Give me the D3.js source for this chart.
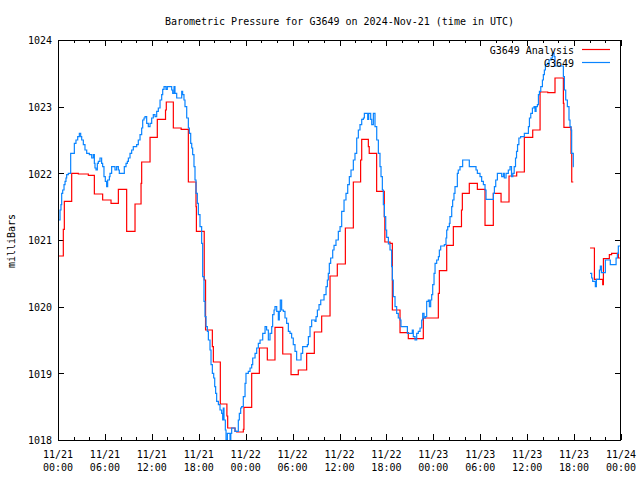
<!DOCTYPE html>
<html><head><meta charset="utf-8">
<script src="https://cdn.jsdelivr.net/npm/d3@7"></script>
<style>body{margin:0;background:#fff}svg{display:block}</style>
</head><body><svg id="c" width="640" height="480"></svg>
<script>
// hours since 2024-11-21 00:00 UTC ; null = data gap
const analysisHours = [0,0.68,0.81,1.75,2.6,3.88,4.65,5.71,6.78,7.72,8.78,9.85,10.62,10.7,11.77,12.7,13.75,13.85,14.75,15.75,16.67,17.65,17.7,18.7,18.87,19.74,19.87,20.76,21.6,21.7,22.64,22.85,23.7,23.78,24.77,25.75,26.77,27.75,28.74,29.8,30.73,31.8,32.78,33.72,34.79,35.72,36.75,37.77,38.7,38.84,39.69,39.8,40.75,41.73,41.8,42.46,42.76,43.74,44.8,46.72,48.64,48.77,49.71,50.56,51.6,51.71,52.6,53.63,54.61,55.67,56.66,57.68,58.66,59.64,60.71,61.65,62.63,63.56,64.63,64.7,65.61,65.7,65.9,66.5,68.04,68.6,69.66,69.75,70.51,70.8,71.66,72];
const analysisValues = [1020.76,1021.16,1021.58,1022.00,1021.99,1021.97,1021.69,1021.60,1021.55,1021.76,1021.13,1021.54,1021.85,1022.17,1022.54,1022.81,1022.95,1023.07,1022.68,1022.66,1021.87,1021.50,1021.13,1020.40,1019.65,1019.40,1019.17,1018.54,1018.36,1018.18,1018.13,1018.12,1018.16,1018.49,1019.00,1019.38,1019.20,1019.69,1019.29,1018.98,1019.05,1019.30,1019.62,1019.86,1020.46,1020.64,1021.18,1021.87,1022.20,1022.51,1022.40,1022.30,1021.73,1021.35,1020.97,1020.95,1019.95,1019.61,1019.52,1019.83,1020.20,1020.54,1020.92,1021.20,1021.45,1021.70,1021.85,1021.76,1021.22,1021.70,1021.57,1021.96,1022.02,1022.54,1022.65,1023.22,1023.21,1023.43,1023.05,1022.69,1022.30,1021.87,1021.87,null,1020.88,1020.41,1020.33,1020.72,1020.78,1020.80,1020.73,1020.73];

const stationHours = [0.1,0.26,0.38,0.47,0.6,0.77,0.9,1.02,1.11,1.32,1.62,2.09,2.3,2.52,2.73,2.9,3.03,3.24,3.45,3.67,4.01,4.31,4.52,4.65,4.73,4.86,5.03,5.16,5.37,5.58,5.71,5.88,6.05,6.22,6.35,6.57,6.65,6.86,7.29,7.5,7.72,7.84,8.48,8.7,8.87,9.0,9.21,9.42,9.63,10.06,10.27,10.49,10.7,10.83,11.0,11.13,11.34,11.55,11.77,11.98,12.19,12.41,12.62,12.83,13.05,13.26,13.39,13.56,13.81,13.98,14.54,14.67,14.84,14.96,15.18,15.82,15.94,16.11,16.24,16.46,16.67,16.8,16.97,17.1,17.22,17.39,17.52,17.65,17.82,17.95,18.16,18.37,18.5,18.67,18.8,18.93,19.1,19.23,19.44,19.57,19.74,19.91,20.04,20.16,20.29,20.51,20.72,20.93,21.06,21.14,21.23,21.4,21.49,21.66,21.91,22.0,22.1,22.21,22.64,23.06,23.19,23.36,23.49,23.7,23.92,24.04,24.34,24.56,24.77,24.9,25.2,25.41,25.62,25.84,26.18,26.48,26.68,26.9,27.11,27.33,27.45,27.63,27.75,27.97,28.18,28.3,28.43,28.6,28.82,29.03,29.24,29.46,29.67,29.88,30.09,30.31,30.52,31.08,31.29,31.89,32.02,32.23,32.44,32.87,33.0,33.17,33.38,33.6,34.02,34.28,34.45,34.57,34.7,34.87,35.13,35.3,35.55,35.85,36.07,36.28,36.58,36.83,37.05,37.26,37.47,37.77,37.98,38.2,38.41,38.62,38.84,39.05,39.18,39.61,39.73,39.99,40.12,40.33,40.54,40.76,40.97,41.18,41.31,41.48,41.61,41.74,41.91,42.03,42.25,42.46,42.67,42.76,42.88,43.1,43.31,43.52,43.74,43.86,44.68,45.31,45.44,45.66,45.87,46.08,46.3,46.51,46.64,46.81,46.98,47.15,47.36,47.49,47.66,47.79,47.92,48.09,48.22,48.43,48.65,48.77,48.94,49.41,49.62,49.71,49.84,50.05,50.13,50.35,50.47,50.64,50.77,51.07,51.19,51.41,51.75,52.6,53.46,53.63,53.97,54.18,54.4,54.61,54.74,55.68,55.81,55.98,56.19,56.74,56.96,57.08,57.3,57.59,57.81,58.0,58.17,58.34,58.51,58.64,58.77,58.94,59.16,59.64,60.16,60.29,60.46,60.67,60.88,61.01,61.14,61.31,61.44,61.57,61.74,61.95,62.07,62.2,62.33,62.59,62.8,63.05,63.22,63.44,63.56,64.63,64.76,64.93,65.14,65.35,65.48,65.61,65.69,65.9,65.95,66.5,68.04,68.25,68.38,68.72,68.85,69.24,69.36,69.49,70.0,70.63,71.37,71.54,71.66,72];
const stationValues = [1021.30,1021.45,1021.53,1021.70,1021.75,1021.83,1021.88,1021.93,1021.98,1022.00,1022.30,1022.45,1022.50,1022.55,1022.60,1022.55,1022.50,1022.43,1022.35,1022.30,1022.28,1022.23,1022.28,1022.15,1022.08,1022.05,1022.15,1022.18,1022.23,1022.15,1022.10,1021.95,1021.88,1021.80,1021.90,1021.95,1022.00,1022.10,1022.05,1022.10,1022.05,1022.00,1022.10,1022.15,1022.18,1022.23,1022.30,1022.35,1022.40,1022.43,1022.50,1022.58,1022.68,1022.80,1022.83,1022.85,1022.75,1022.70,1022.75,1022.83,1022.88,1022.85,1022.93,1022.98,1023.10,1023.18,1023.26,1023.30,1023.26,1023.30,1023.25,1023.20,1023.30,1023.20,1023.13,1023.23,1023.18,1023.10,1023.00,1022.83,1022.68,1022.60,1022.45,1022.38,1022.28,1022.10,1021.90,1021.70,1021.55,1021.38,1021.20,1020.95,1020.45,1020.08,1019.85,1019.70,1019.63,1019.50,1019.35,1019.13,1019.00,1018.93,1018.80,1018.70,1018.58,1018.53,1018.45,1018.40,1018.30,1018.48,1018.30,1018.15,1018.00,1018.10,1018.10,1017.98,1018.10,1018.18,1018.13,1018.30,1018.40,1018.48,1018.50,1018.65,1018.85,1019.00,1019.03,1019.08,1019.13,1019.23,1019.30,1019.38,1019.45,1019.50,1019.60,1019.70,1019.65,1019.50,1019.60,1019.70,1019.88,1019.95,1020.00,1019.93,1019.80,1019.93,1020.10,1019.95,1019.93,1019.83,1019.75,1019.63,1019.60,1019.53,1019.43,1019.33,1019.20,1019.30,1019.40,1019.43,1019.55,1019.70,1019.80,1019.78,1019.85,1019.95,1020.03,1020.10,1020.18,1020.30,1020.40,1020.50,1020.65,1020.73,1020.85,1020.92,1021.00,1021.13,1021.20,1021.43,1021.60,1021.70,1021.83,1021.95,1022.05,1022.20,1022.30,1022.53,1022.65,1022.73,1022.81,1022.83,1022.90,1022.81,1022.90,1022.81,1022.73,1022.90,1022.70,1022.50,1022.30,1022.10,1021.95,1021.75,1021.53,1021.35,1021.15,1021.04,1020.94,1020.85,1020.60,1020.40,1020.15,1020.00,1019.90,1019.83,1019.80,1019.70,1019.60,1019.65,1019.55,1019.50,1019.60,1019.63,1019.68,1019.80,1019.90,1019.83,1019.85,1020.08,1020.10,1020.00,1020.10,1020.18,1020.33,1020.50,1020.65,1020.70,1020.75,1020.85,1020.91,1020.93,1021.03,1021.15,1021.20,1021.25,1021.35,1021.50,1021.60,1021.70,1021.80,1022.00,1022.05,1022.10,1022.20,1022.10,1022.05,1022.00,1021.95,1021.88,1021.83,1021.75,1021.61,1021.70,1021.80,1021.90,1022.00,1021.95,1022.00,1021.93,1022.00,1022.05,1022.10,1021.95,1022.00,1022.10,1022.23,1022.33,1022.43,1022.53,1022.55,1022.60,1022.70,1022.83,1022.90,1022.98,1023.00,1022.93,1023.00,1023.03,1023.18,1023.23,1023.30,1023.40,1023.48,1023.55,1023.63,1023.65,1023.70,1023.73,1023.80,1023.75,1023.61,1023.45,1023.25,1023.10,1023.00,1022.80,1022.70,1022.65,1022.30,1022.10,1022.10,null,1020.50,1020.43,1020.38,1020.30,1020.41,1020.55,1020.61,1020.51,1020.70,1020.63,1020.73,1020.80,1020.91,1020.91];

const xTickHours = [0,6,12,18,24,30,36,42,48,54,60,66,72];
const xTickDates = ["11/21","11/21","11/21","11/21","11/22","11/22","11/22","11/22","11/23","11/23","11/23","11/23","11/24"];
const xTickTimes = ["00:00","06:00","12:00","18:00","00:00","06:00","12:00","18:00","00:00","06:00","12:00","18:00","00:00"];
const xMinorHours = d3.range(0, 73, 2);
const yTicks = [1018,1019,1020,1021,1022,1023,1024];
const seriesNames = ["G3649 Analysis","G3649"];
const seriesColors = ["#ff0000","#0a84ff"];

const FONT = "'DejaVu Sans Mono', 'Liberation Mono', monospace";
const svg = d3.select('#c').style('font-family', FONT).style('font-size','10px');
const L = 58, R = 621, T = 40, B = 440;
const x = d3.scaleLinear().domain([0,72]).range([L,R]);
const y = d3.scaleLinear().domain([1018,1024]).range([B,T]);

svg.append('defs').append('clipPath').attr('id','clip')
  .append('rect').attr('x',L).attr('y',T).attr('width',R-L).attr('height',B-T+1);

// title
svg.append('text').attr('x',(L+R)/2).attr('y',25).attr('text-anchor','middle')
  .text('Barometric Pressure for G3649 on 2024-Nov-21 (time in UTC)');

// y axis label
svg.append('text').attr('transform','translate(15,241) rotate(-90)').attr('text-anchor','middle')
  .text('milliBars');

// x tick labels (two lines)
const gxt = svg.append('g');
xTickHours.forEach((h,i)=>{
  const t = gxt.append('text').attr('x',x(h)).attr('text-anchor','middle');
  t.append('tspan').attr('x',x(h)).attr('y',458).text(xTickDates[i]);
  t.append('tspan').attr('x',x(h)).attr('y',471).text(xTickTimes[i]);
});

// y axis labels via d3 axis
const gy = svg.append('g').attr('transform',`translate(${L},0)`)
  .call(d3.axisLeft(y).tickValues(yTicks).tickSize(0).tickPadding(6).tickFormat(d3.format('d')));
gy.select('.domain').remove();
gy.selectAll('text').attr('font-family',FONT).attr('font-size','10px').attr('fill','#000').attr('dy','0.38em');

// tick marks (inward, mirrored)
const ticks = svg.append('g').attr('stroke','#000').attr('stroke-width',1).attr('shape-rendering','crispEdges');
xMinorHours.forEach(h=>{
  const len = (h % 6 === 0) ? 6 : 3;
  const xx = Math.round(x(h)) + 0.5;
  ticks.append('line').attr('x1',xx).attr('x2',xx).attr('y1',B).attr('y2',B-len);
  ticks.append('line').attr('x1',xx).attr('x2',xx).attr('y1',T).attr('y2',T+len);
});
yTicks.forEach(v=>{
  const yy = Math.round(y(v)) + 0.5;
  ticks.append('line').attr('x1',L).attr('x2',L+6).attr('y1',yy).attr('y2',yy);
  ticks.append('line').attr('x1',R).attr('x2',R-6).attr('y1',yy).attr('y2',yy);
});

// data lines
const mk = (hs, vs) => hs.map((h,i)=>({h, v: vs[i]}));
const line = d3.line().defined(d=>d.v!==null).x(d=>x(d.h)).y(d=>y(d.v)).curve(d3.curveStepAfter);
const plot = svg.append('g').attr('clip-path','url(#clip)');
plot.append('path').datum(mk(analysisHours, analysisValues))
  .attr('fill','none').attr('stroke',seriesColors[0]).attr('stroke-width',1.2).attr('d',line);
plot.append('path').datum(mk(stationHours, stationValues))
  .attr('fill','none').attr('stroke',seriesColors[1]).attr('stroke-width',1.2).attr('d',line);

// frame
svg.append('rect').attr('x',L+0.5).attr('y',T+0.5).attr('width',R-L-1).attr('height',B-T)
  .attr('fill','none').attr('stroke','#000').attr('shape-rendering','crispEdges');

// legend
const leg = svg.append('g');
seriesNames.forEach((n,i)=>{
  const yy = 50 + i*13;
  leg.append('text').attr('x',574).attr('y',yy+3.6).attr('text-anchor','end').text(n);
  leg.append('line').attr('x1',582).attr('x2',610).attr('y1',yy-0.5).attr('y2',yy-0.5)
    .attr('stroke',seriesColors[i]).attr('stroke-width',1.2);
});
</script></body></html>
